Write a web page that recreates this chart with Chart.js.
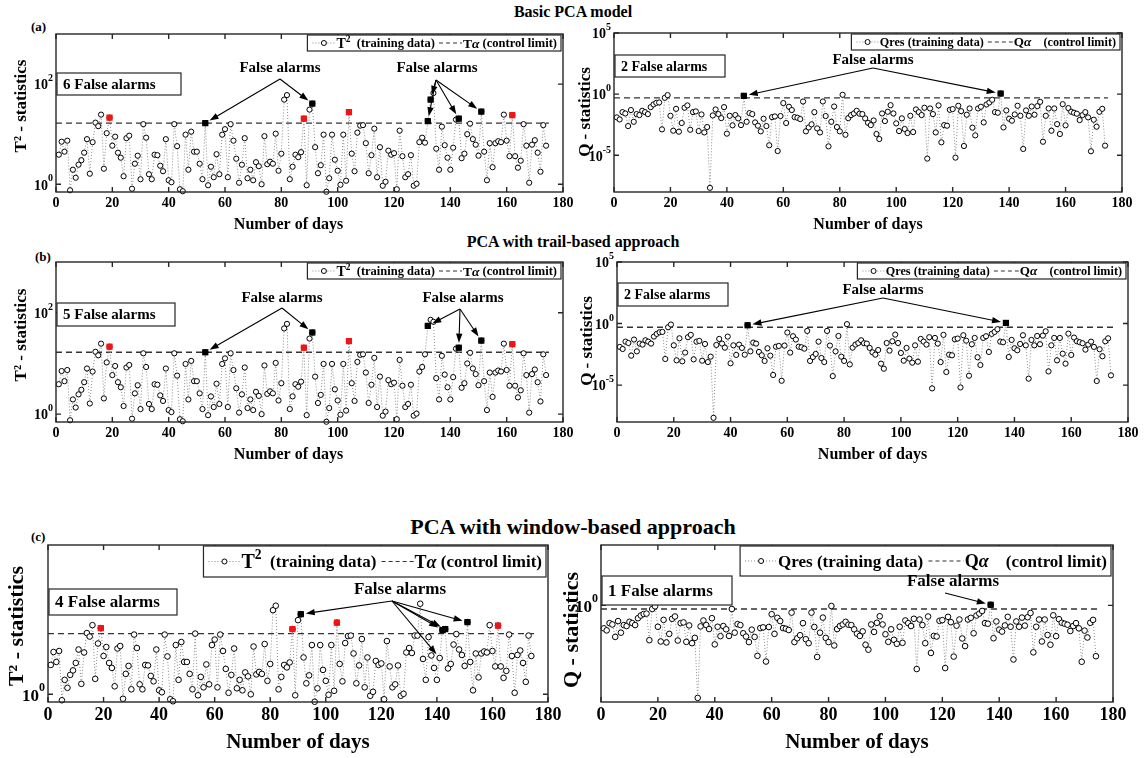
<!DOCTYPE html>
<html lang="en">
<head>
<meta charset="UTF-8">
<title>PCA false alarms</title>
<script src="https://cdn.jsdelivr.net/npm/chart.js"></script>
<style>
  body { margin: 0; background: #fff; width: 1146px; height: 758px; position: relative; overflow: hidden; font-family: "Liberation Serif", "Times New Roman", serif; }
  .lbl { position: absolute; font-weight: bold; color: #000; white-space: nowrap; line-height: 1; }
  canvas { position: absolute; }
</style>
</head>
<body>

<div class="lbl" style="left:0;width:1146px;text-align:center;top:4px;font-size:16px">Basic PCA model</div>
<div class="lbl" style="left:31px;top:20px;font-size:13px">(a)</div>
<div class="lbl" style="left:0;width:1146px;text-align:center;top:234px;font-size:16px">PCA with trail-based approach</div>
<div class="lbl" style="left:35px;top:250px;font-size:13px">(b)</div>
<div class="lbl" style="left:0;width:1146px;text-align:center;top:516px;font-size:22px">PCA with window-based approach</div>
<div class="lbl" style="left:31px;top:530px;font-size:13px">(c)</div>

<script>
// T^2 statistic per day (log10 values), days 1..174
const t2Log = [
  0.59, 0.85, 0.65, 0.87, -0.12, 0.29, 0.13, 0.39, 0.48, 0.63,
  0.90, 0.21, 0.84, 1.23, 1.16, 1.39, 0.31, 1.02, 1.33, 0.77,
  0.95, 0.63, 0.53, 0.16, 0.92, 0.97, -0.09, 0.41, 0.57, 0.10,
  1.20, 0.93, 0.20, 0.10, 0.59, 0.58, 0.37, 0.26, 0.90, 0.08,
  0.04, 1.20, 0.76, -0.10, -0.14, 0.99, 0.29, 1.05, 0.65, 0.65,
  0.41, 0.10, 1.22, -0.02, 0.35, 0.14, 0.60, 0.20, 0.99, 1.10,
  0.14, 1.20, 0.87, 0.51, 0.03, 0.39, 0.92, 0.12, 0.29, 0.08,
  0.44, 0.36, 0.00, 0.96, 0.40, 0.45, 0.41, 1.01, 0.27, 0.61,
  1.69, 1.78, 0.10, 0.35, 0.59, 0.54, 0.64, 1.31, -0.02, 1.49,
  1.61, 0.74, 0.22, 0.38, 0.99, -0.15, 0.12, 0.99, 0.49, 0.27,
  -0.01, 0.99, 0.07, 1.44, 0.61, 0.26, 1.03, 1.17, 1.18, 0.82,
  0.22, 0.58, 1.11, 0.14, 0.74, -0.03, 0.05, 0.67, 0.59, 0.62,
  -0.10, 1.07, 0.56, 0.14, 0.20, 0.58, -0.03, 0.01, 0.84, 0.93,
  0.83, 1.26, 1.69, 1.82, 0.71, 0.29, 1.15, 0.78, 0.53, 0.29,
  0.73, 1.29, 1.31, 0.52, 0.61, 1.00, 1.21, 0.90, 0.79, 0.57,
  1.45, 0.65, 0.08, 0.82, 0.34, 0.82, 0.86, 0.84, 1.39, 0.87,
  0.56, 1.38, 0.56, 0.33, 0.47, 1.20, 0.77, 0.03, 0.79, 0.88,
  0.63, 0.25, 1.18, 0.77
];

// Q residual statistic per day (log10 values), days 1..174
const qLog = [
  -1.90, -2.07, -1.47, -1.58, -2.61, -1.30, -2.26, -1.63, -1.71, -1.36,
  -1.47, -1.63, -1.06, -0.84, -0.71, -0.68, -2.88, -0.30, -0.08, -1.77,
  -2.99, -1.20, -3.07, -2.36, -1.11, -0.92, -2.91, -1.47, -1.41, -3.02,
  -1.66, -3.13, -2.69, -7.66, -1.74, -1.25, -1.63, -1.96, -1.06, -3.23,
  -1.77, -2.55, -1.71, -1.98, -2.53, -0.14, -2.26, -1.55, -1.63, -2.31,
  -2.58, -3.04, -2.01, -2.61, -4.18, -1.88, -1.82, -4.65, -1.79, -0.73,
  -2.36, -1.03, -1.30, -1.88, -1.93, -2.04, -0.60, -3.04, -2.72, -2.47,
  -1.47, -2.80, -3.13, -0.60, -1.79, -4.27, -2.26, -1.01, -2.69, -3.04,
  -0.05, -3.32, -1.96, -1.71, -1.58, -1.36, -1.60, -1.63, -1.98, -2.34,
  -2.53, -2.15, -3.26, -3.67, -1.58, -2.20, -1.44, -0.90, -1.58, -2.39,
  -3.02, -1.98, -2.85, -3.18, -1.77, -3.10, -1.25, -1.47, -1.71, -1.11,
  -5.27, -1.17, -1.63, -3.13, -0.92, -3.94, -2.53, -2.58, -1.28, -1.22,
  -5.19, -0.95, -1.39, -4.24, -1.68, -1.17, -2.74, -3.37, -1.17, -1.03,
  -2.31, -0.84, -0.68, -0.46, -1.47, -1.52, 0.05, -2.72, -1.33, -2.01,
  -2.17, -1.66, -0.95, -1.77, -4.48, -1.33, -1.77, -1.01, -1.68, -0.98,
  -0.63, -3.89, -1.77, -1.17, -2.99, -1.17, -2.45, -3.26, -0.82, -2.55,
  -1.14, -1.44, -1.52, -1.60, -2.12, -1.71, -1.47, -1.90, -4.67, -2.09,
  -2.66, -1.44, -1.20, -4.21
];

// days where the trail / window approaches plot a different value (day, log10)
const t2TrailFix = [[131, 1.18], [132, 1.74], [133, 1.86]];
const t2WindowFix = [[132, 1.18], [133, 1.18]];
const qWindowFix = [[46, -0.30]];

const t2Limit = 16.6;
const qLimit = 0.5;

// highlighted days
const t2AlarmsBasic = [53, 91, 132, 133, 143, 151];
const t2AlarmsTrail = [53, 91, 132, 143, 151];
const t2AlarmsWindow = [91, 142, 143, 151];
const t2RedDays = [19, 88, 104, 162];
const qAlarms = [46, 137];
const qAlarmsWindow = [137];

// y tick labels (powers of ten)
const t2TickExp = [0, 2];
const qTickExp = [-5, 0, 5];
const windowTickExp = [0];

const FONT = '"Liberation Serif", "Times New Roman", serif';

function makeSeries(logs, fixes) {
  const pts = logs.map((v, i) => ({ x: i + 1, y: Math.pow(10, v) }));
  (fixes || []).forEach(([d, v]) => { pts[d - 1].y = Math.pow(10, v); });
  return pts;
}

function pick(pts, daysList) {
  return daysList.map(d => pts[d - 1]);
}

function legendRuns(kind, s, big) {
  if (kind === 'T') {
    return [
      { dot: s * 2 }, { t: 'T', s: big }, { t: '2', s: big * 0.68, sup: true },
      { t: '  (training data) ', s: s }, { dash: s * 2 },
      { t: 'T', s: s + 1 }, { t: '\u03b1', s: s + 1, it: true }, { t: ' (control limit)', s: s }
    ];
  }
  return [
    { dot: s * 2 }, { t: 'Qres (training data) ', s: s }, { dash: s * 2.2 },
    { t: 'Q', s: s + 1 }, { t: '\u03b1', s: s + 1, it: true }, { t: '    (control limit)', s: s }
  ];
}

function runs(ctx, list, x0, yMid, draw) {
  let x = x0;
  list.forEach(r => {
    if (r.dot || r.dash) {
      const w = r.dot || r.dash;
      if (draw) {
        ctx.save();
        ctx.beginPath();
        ctx.setLineDash(r.dot ? [1, 2] : [4, 3]);
        ctx.strokeStyle = r.dot ? '#888' : '#333';
        ctx.lineWidth = r.dot ? 1 : 1.2;
        ctx.moveTo(x + 1, yMid); ctx.lineTo(x + w - 1, yMid);
        ctx.stroke();
        if (r.dot) {
          ctx.setLineDash([]);
          ctx.beginPath();
          ctx.arc(x + w / 2, yMid, 2.5, 0, Math.PI * 2);
          ctx.fillStyle = '#fff'; ctx.fill();
          ctx.strokeStyle = '#000'; ctx.lineWidth = 1; ctx.stroke();
        }
        ctx.restore();
      }
      x += w;
      return;
    }
    ctx.font = (r.it ? 'italic ' : '') + 'bold ' + r.s + 'px ' + FONT;
    if (draw) {
      ctx.fillStyle = '#000';
      ctx.textBaseline = 'alphabetic';
      ctx.fillText(r.t, x, r.sup ? yMid - r.s * 0.15 : yMid + r.s * 0.34);
    }
    x += ctx.measureText(r.t).width;
  });
  return x - x0;
}

function arrow(ctx, x1, y1, x2, y2, gap) {
  const dx = x2 - x1, dy = y2 - y1, len = Math.hypot(dx, dy);
  const ux = dx / len, uy = dy / len;
  const ex = x2 - ux * gap, ey = y2 - uy * gap;
  ctx.beginPath();
  ctx.moveTo(x1, y1); ctx.lineTo(ex - ux * 6, ey - uy * 6);
  ctx.stroke();
  ctx.beginPath();
  ctx.moveTo(ex, ey);
  ctx.lineTo(ex - ux * 9 - uy * 3.2, ey - uy * 9 + ux * 3.2);
  ctx.lineTo(ex - ux * 9 + uy * 3.2, ey - uy * 9 - ux * 3.2);
  ctx.closePath();
  ctx.fill();
}

function makeDecor(p, pts, origin) {
  return {
    id: 'decor',
    afterDraw(chart) {
      const { ctx, chartArea: a, scales: { x, y } } = chart;
      ctx.save();
      // axes box with inward ticks
      ctx.strokeStyle = '#262626';
      ctx.lineWidth = 1.4;
      ctx.strokeRect(a.left, a.top, a.right - a.left, a.bottom - a.top);
      ctx.beginPath();
      x.ticks.forEach(t => {
        const px = x.getPixelForValue(t.value);
        ctx.moveTo(px, a.bottom); ctx.lineTo(px, a.bottom - 5);
        ctx.moveTo(px, a.top); ctx.lineTo(px, a.top + 5);
      });
      p.yExp.forEach(e => {
        const py = y.getPixelForValue(Math.pow(10, e));
        ctx.moveTo(a.left, py); ctx.lineTo(a.left + 5, py);
        ctx.moveTo(a.right, py); ctx.lineTo(a.right - 5, py);
      });
      ctx.stroke();

      // y tick labels 10^e
      ctx.fillStyle = '#000';
      ctx.textBaseline = 'alphabetic';
      p.yExp.forEach(e => {
        const py = y.getPixelForValue(Math.pow(10, e));
        const es = e < 0 ? '-' + Math.abs(e) : String(e);
        ctx.font = 'bold ' + Math.round(p.ySize * 0.68) + 'px ' + FONT;
        const ew = ctx.measureText(es).width;
        ctx.fillText(es, a.left - 3 - ew, py - p.ySize * 0.2);
        ctx.font = 'bold ' + p.ySize + 'px ' + FONT;
        const bw = ctx.measureText('10').width;
        ctx.fillText('10', a.left - 3 - ew - bw, py + p.ySize * 0.38);
      });

      // axis titles
      ctx.textAlign = 'center';
      ctx.textBaseline = 'middle';
      ctx.font = 'bold ' + p.xTitleSize + 'px ' + FONT;
      ctx.fillText('Number of days', (a.left + a.right) / 2 + p.xTitleDx, p.xTitleY - origin.top);
      ctx.save();
      ctx.translate(p.yTitleX - origin.left, p.yTitleY - origin.top);
      ctx.rotate(-Math.PI / 2);
      ctx.font = 'bold ' + p.yTitleSize + 'px ' + FONT;
      ctx.fillText(p.yTitle, 0, 0);
      ctx.restore();
      ctx.textAlign = 'left';

      // legend box
      const lg = legendRuns(p.legend.kind, p.legend.s, p.legend.big || p.legend.s);
      const cw = runs(ctx, lg, 0, 0, false);
      const lw = cw + 8, lx = a.right - lw - 2, ly = a.top + 1;
      ctx.fillStyle = '#fff';
      ctx.fillRect(lx, ly, lw, p.legend.h);
      ctx.strokeStyle = '#262626'; ctx.lineWidth = 1.2;
      ctx.strokeRect(lx, ly, lw, p.legend.h);
      runs(ctx, lg, lx + 4, ly + p.legend.h / 2, true);

      // false alarm count box
      const c = p.count;
      const bx = a.left + c.dx, by = a.top + c.dy;
      ctx.fillStyle = '#fff';
      ctx.fillRect(bx, by, c.w, c.h);
      ctx.strokeStyle = '#262626'; ctx.lineWidth = 1.2;
      ctx.strokeRect(bx, by, c.w, c.h);
      ctx.fillStyle = '#000';
      ctx.font = 'bold ' + c.size + 'px ' + FONT;
      ctx.textBaseline = 'middle';
      ctx.textAlign = 'left';
      ctx.fillText(c.text, bx + 6, by + c.h / 2 + 1);

      // "False alarms" notes with arrows to the flagged days
      p.notes.forEach(n => {
        ctx.font = 'bold ' + p.noteSize + 'px ' + FONT;
        ctx.textAlign = 'center';
        ctx.textBaseline = 'middle';
        ctx.fillStyle = '#000';
        ctx.fillText('False alarms', a.left + n.tx, a.top + n.ty);
        ctx.strokeStyle = '#000';
        ctx.lineWidth = 1.1;
        n.to.forEach(d => {
          const pt = pts[d - 1];
          arrow(ctx, a.left + n.ox, a.top + n.oy, x.getPixelForValue(pt.x), y.getPixelForValue(pt.y), 5);
        });
      });
      ctx.restore();
    }
  };
}

function buildPanel(p) {
  const [L, T, R, B] = p.area;
  const padTop = 12, padRight = 18;
  const xH = Math.round(p.xTitleY - B + p.xTitleSize);
  const left = L - p.yW, top = T - padTop;
  const W = p.yW + (R - L) + padRight, H = padTop + (B - T) + xH;
  const cv = document.createElement('canvas');
  cv.width = W; cv.height = H;
  cv.style.left = left + 'px'; cv.style.top = top + 'px';
  cv.style.width = W + 'px'; cv.style.height = H + 'px';
  document.body.appendChild(cv);

  const pts = makeSeries(p.logs, p.fix);
  const limit = p.limit;

  new Chart(cv, {
    type: 'line',
    data: {
      datasets: [
        {
          data: pick(pts, p.black), showLine: false, pointStyle: 'rect', pointRadius: 4.4,
          pointBackgroundColor: '#000', pointBorderColor: '#000', pointBorderWidth: 0, order: 0
        },
        {
          data: pick(pts, p.red), showLine: false, pointStyle: 'rect', pointRadius: 4.4,
          pointBackgroundColor: '#f01414', pointBorderColor: '#f01414', pointBorderWidth: 0, order: 0
        },
        {
          data: pts, borderColor: '#8a8a8a', borderWidth: 1, borderDash: [1, 2], tension: 0,
          pointRadius: p.ptR, pointBorderColor: '#000', pointBackgroundColor: '#fff', pointBorderWidth: 1,
          clip: false, order: 2
        },
        {
          data: [{ x: 0, y: limit }, { x: 175, y: limit }], borderColor: '#333', borderWidth: 1.3,
          borderDash: [6, 4], pointRadius: 0, order: 3
        }
      ]
    },
    options: {
      responsive: false,
      animation: false,
      devicePixelRatio: 1,
      layout: { padding: { top: padTop, right: padRight, left: 0, bottom: 0 } },
      plugins: { legend: { display: false }, tooltip: { enabled: false } },
      scales: {
        x: {
          type: 'linear', min: 0, max: 180,
          ticks: { stepSize: 20, color: '#000', padding: 3, maxRotation: 0, autoSkip: false,
                   font: { family: FONT, size: p.tickSize, weight: 'bold' } },
          grid: { display: false, drawTicks: false },
          border: { display: false },
          afterFit: s => { s.height = xH; }
        },
        y: {
          type: 'logarithmic', min: p.ymin, max: p.ymax,
          ticks: { display: false },
          grid: { display: false, drawTicks: false },
          border: { display: false },
          afterFit: s => { s.width = p.yW; }
        }
      }
    },
    plugins: [makeDecor(p, pts, { left: left, top: top })]
  });
}

const t2Base = { logs: t2Log, limit: t2Limit, ymin: Math.pow(10, -0.15), ymax: 1000, yTitle: 'T\u00b2 - statistics', red: t2RedDays };
const qBase = { logs: qLog, limit: qLimit, ymin: 1e-8, ymax: 1e5, yTitle: 'Q - statistics', red: [] };
const smallFonts = { tickSize: 14, xTitleSize: 16, yTitleSize: 17, ySize: 14, noteSize: 15, ptR: 2.6 };
const bigFonts = { tickSize: 18, xTitleSize: 21, yTitleSize: 22, ySize: 17, noteSize: 17, ptR: 2.8 };

const panels = [
  Object.assign({}, t2Base, smallFonts, {
    area: [56, 34, 563, 192], yW: 56, yTitleX: 22, yTitleY: 106, xTitleY: 225, xTitleDx: -21, yExp: t2TickExp,
    fix: null, black: t2AlarmsBasic,
    legend: { kind: 'T', s: 12.5, big: 14, h: 16 },
    count: { text: '6 False alarms', dx: 1, dy: 39, w: 124, h: 22, size: 15 },
    notes: [{ tx: 224, ty: 34, ox: 224, oy: 45, to: [53, 91] },
            { tx: 381, ty: 34, ox: 380, oy: 46, to: [132, 133, 143, 151] }]
  }),
  Object.assign({}, qBase, smallFonts, {
    area: [614, 33, 1122, 192], yW: 50, yTitleX: 586, yTitleY: 112, xTitleY: 225, xTitleDx: 0, yExp: qTickExp,
    fix: null, black: qAlarms,
    legend: { kind: 'Q', s: 12.2, h: 16 },
    count: { text: '2 False alarms', dx: 1, dy: 22, w: 110, h: 22, size: 14 },
    notes: [{ tx: 259, ty: 27, ox: 259, oy: 35, to: [46, 137] }]
  }),
  Object.assign({}, t2Base, smallFonts, {
    area: [56, 262, 563, 422], yW: 56, yTitleX: 22, yTitleY: 335, xTitleY: 455, xTitleDx: -21, yExp: t2TickExp,
    fix: t2TrailFix, black: t2AlarmsTrail,
    legend: { kind: 'T', s: 12.5, big: 14, h: 16 },
    count: { text: '5 False alarms', dx: 1, dy: 41, w: 118, h: 23, size: 15 },
    notes: [{ tx: 226, ty: 36, ox: 226, oy: 46, to: [53, 91] },
            { tx: 407, ty: 36, ox: 404, oy: 47, to: [132, 143, 151] }]
  }),
  Object.assign({}, qBase, smallFonts, {
    area: [617, 262, 1128, 422], yW: 50, yTitleX: 588, yTitleY: 341, xTitleY: 455, xTitleDx: 0, yExp: qTickExp,
    fix: null, black: qAlarms,
    legend: { kind: 'Q', s: 12.2, h: 16 },
    count: { text: '2 False alarms', dx: 1, dy: 21, w: 110, h: 23, size: 14 },
    notes: [{ tx: 266, ty: 28, ox: 266, oy: 36, to: [46, 137] }]
  }),
  Object.assign({}, t2Base, bigFonts, {
    area: [48, 545, 548, 702], yW: 48, yTitleX: 17, yTitleY: 626, xTitleY: 743, xTitleDx: 0, yExp: windowTickExp,
    fix: t2WindowFix, black: t2AlarmsWindow,
    legend: { kind: 'T', s: 17, big: 20, h: 31 },
    count: { text: '4 False alarms', dx: 1, dy: 44, w: 128, h: 26, size: 17 },
    notes: [{ tx: 352, ty: 45, ox: 344, oy: 56, to: [91, 141, 142, 143, 151] }]
  }),
  Object.assign({}, qBase, bigFonts, {
    area: [601, 545, 1113, 702], yW: 48, yTitleX: 572, yTitleY: 630, xTitleY: 743, xTitleDx: 0, yExp: windowTickExp,
    fix: qWindowFix, black: qAlarmsWindow,
    legend: { kind: 'Q', s: 17, h: 30 },
    count: { text: '1 False alarms', dx: 1, dy: 31, w: 130, h: 29, size: 17 },
    notes: [{ tx: 352, ty: 37, ox: 344, oy: 48, to: [137] }]
  })
];

panels.forEach(buildPanel);
</script>
</body>
</html>
